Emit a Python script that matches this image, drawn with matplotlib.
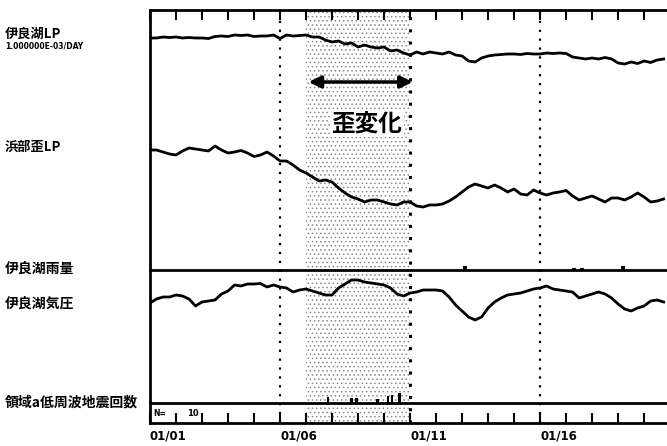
import matplotlib.pyplot as plt
import numpy as np

# 観測データ（01/01 からの経過日, 0.25日刻み）
plt.rcParams['font.family'] = ['Noto Sans CJK JP', 'DejaVu Sans']
plt.rcParams['hatch.linewidth'] = 0.6

STEP = 0.25

# 伊良湖LP
irago_lp = [32, 32, 33, 32.5, 33, 32, 32.5, 32, 32, 31.5, 33.5, 34, 33.5, 35, 34.5, 35,
            33.5, 34, 34, 35, 31.5, 35, 34, 34.5, 35, 33, 33, 30, 28, 29, 26, 27,
            23, 25, 23, 22, 23, 19, 20, 17, 15, 18, 16, 18, 17, 16, 18, 15,
            14, 9, 8, 12, 14, 15, 15.5, 16, 16, 15.5, 16.5, 16, 16, 17, 16.5, 17,
            16.5, 13, 12, 11, 12, 11, 12.5, 11, 7, 6, 8, 6.5, 9, 7.5, 10, 11]

# 浜部歪LP
hamabe_lp = [60, 60, 58, 56, 55, 59, 62, 61, 60, 59, 64, 60, 57, 58, 59.5, 57,
             53.5, 55, 58, 54, 49, 49, 45, 40, 37, 33, 29, 30, 28, 22, 17, 13,
             11, 8, 10, 10, 8, 6, 5, 8, 8, 4, 3, 5, 5, 6, 9, 13,
             18, 23, 26, 24, 22, 25, 22, 18, 21, 16, 15, 20, 17, 15, 17, 18,
             19.5, 14, 10, 12, 14, 11, 8, 12, 12, 10, 13, 17, 13, 8, 9, 11]

# 伊良湖気圧
irago_press = [27, 31, 33, 33, 35, 34, 31, 24, 28, 29, 30, 36, 39, 45, 44, 46,
               46, 46.5, 43, 45, 43, 42, 38, 40, 41, 39, 37, 35, 35, 42, 46, 50,
               50, 48, 47, 46, 45, 42, 36, 34, 37, 38, 40, 40, 40, 39, 33, 25,
               19, 13, 10, 13, 22, 28, 32, 35, 36, 37, 39, 41, 42, 44, 41, 40,
               39, 38, 32, 34, 36, 38, 36, 32, 26, 21, 19, 22, 24, 29, 30, 28]

# 伊良湖雨量
rain_day = [12.1, 16.3, 16.6, 18.2]
rain_val = [4, 2.5, 2, 4]

# 低周波地震回数
quake_day = [6.85, 7.75, 7.95, 8.75, 9.15, 9.3, 9.6]
quake_val = [6, 5, 5, 4, 7, 8, 10]

date_labels = ['01/01', '01/06', '01/11', '01/16']
shade_span = (6, 10)
arrow_span = (6.1, 10.1)

W, H = 667, 446


def rect(top, bottom):
    return [150 / W, 1 - bottom / H, (W - 150) / W, (bottom - top) / H]


def sub_axes(fig, top, bottom, ylim):
    a = fig.add_axes(rect(top, bottom))
    a.set_facecolor('none')
    a.set_xlim(0, 19.88)
    a.set_ylim(*ylim)
    for s in a.spines.values():
        s.set_visible(False)
    a.set_xticks([])
    a.set_yticks([])
    return a


fig = plt.figure(figsize=(W / 100, H / 100), dpi=100)

# 枠
ax = fig.add_axes(rect(10, 423))
ax.set_xlim(0, 19.88)
ax.set_ylim(0, 1)
ax.spines['right'].set_visible(False)
for k in ['top', 'left', 'bottom']:
    ax.spines[k].set_linewidth(2)
ax.set_yticks([])
days = list(range(20))
ax.set_xticks(days)
ax.set_xticklabels([date_labels[d // 5] if d % 5 == 0 else '' for d in days])
ax.tick_params(axis='x', direction='in', length=7, width=1.5, top=True, bottom=True,
               labelsize=8.5, pad=5)
for t in ax.get_xticklabels():
    t.set_ha('left')
    t.set_fontweight('bold')
    t.set_family('DejaVu Sans')

ax.axvspan(*shade_span, facecolor='white', edgecolor='#8a8a8a', hatch='....', lw=0)
for d, lw in [(5, 1.6), (10, 2.2), (15, 1.6)]:
    ax.axvline(d, color='k', lw=lw, ls=(0, (1, 3)))

# 各系列
a1 = sub_axes(fig, 0, 70, (0, 70))
a1.plot(np.arange(len(irago_lp)) * STEP, irago_lp, color='k', lw=2)

a2 = sub_axes(fig, 130, 210, (0, 80))
a2.plot(np.arange(len(hamabe_lp)) * STEP, hamabe_lp, color='k', lw=2)

a3 = sub_axes(fig, 270, 330, (0, 60))
a3.plot(np.arange(len(irago_press)) * STEP, irago_press, color='k', lw=2)

a4 = sub_axes(fig, 250, 270, (0, 20))
a4.spines['bottom'].set_visible(True)
a4.spines['bottom'].set_linewidth(2)
a4.bar(rain_day, rain_val, width=0.15, color='k')

a5 = sub_axes(fig, 383, 403, (0, 20))
a5.spines['bottom'].set_visible(True)
a5.spines['bottom'].set_linewidth(2)
a5.bar(quake_day, quake_val, width=0.1, color='k')

# 歪変化
arrow_y = 1 - (82 - 10) / 413
ax.annotate('', xy=(arrow_span[1], arrow_y), xytext=(arrow_span[0], arrow_y),
            xycoords=('data', 'axes fraction'), textcoords=('data', 'axes fraction'),
            arrowprops=dict(arrowstyle='<|-|>', color='k', lw=2.5, mutation_scale=18,
                            shrinkA=0, shrinkB=0))
fig.text(367 / W, 1 - 124 / H, '歪変化', fontsize=17, fontweight='bold',
         ha='center', va='center',
         bbox=dict(facecolor='white', edgecolor='none', pad=1))

# 左側ラベル
fig.text(5 / W, 1 - 34 / H, '伊良湖LP', fontsize=9.5, fontweight='bold', va='center')
fig.text(5 / W, 1 - 46 / H, '1.000000E-03/DAY', fontsize=5.5, fontweight='bold',
         va='center', family='DejaVu Sans')
fig.text(5 / W, 1 - 147 / H, '浜部歪LP', fontsize=9.5, fontweight='bold', va='center')
fig.text(5 / W, 1 - 269 / H, '伊良湖雨量', fontsize=10, fontweight='bold', va='center')
fig.text(5 / W, 1 - 304 / H, '伊良湖気圧', fontsize=10, fontweight='bold', va='center')
fig.text(5 / W, 1 - 402 / H, '領域a低周波地震回数', fontsize=10, fontweight='bold',
         va='center')
fig.text(153 / W, 1 - 414 / H, 'N=', fontsize=5.5, fontweight='bold', va='center',
         family='DejaVu Sans')
fig.text(187 / W, 1 - 413 / H, '10', fontsize=6, fontweight='bold', va='center',
         family='DejaVu Sans')

fig.savefig('out.png', dpi=100)
